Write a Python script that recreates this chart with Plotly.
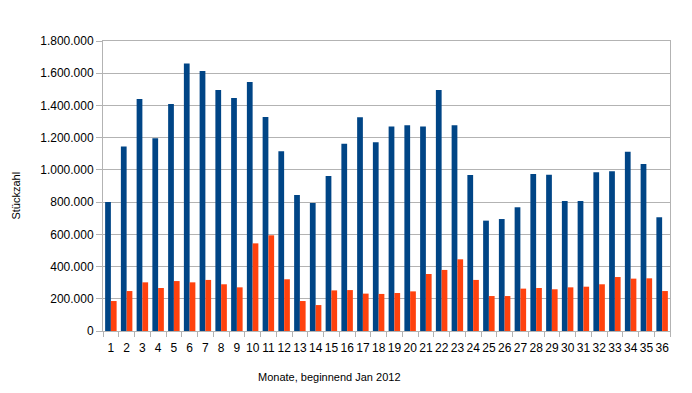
import plotly.graph_objects as go

months = [str(i) for i in range(1, 37)]
series_blue = [800000, 1145000, 1440000, 1196000, 1409000, 1661000, 1614000, 1496000, 1446000, 1546000,
               1328000, 1115000, 844000, 795000, 962000, 1163000, 1326000, 1171000, 1270000, 1277000,
               1270000, 1496000, 1277000, 968000, 685000, 695000, 768000, 975000, 970000, 807000,
               807000, 985000, 991000, 1113000, 1037000, 706000]
series_orange = [186000, 248000, 302000, 267000, 310000, 302000, 317000, 290000, 271000, 544000,
                 594000, 321000, 186000, 161000, 252000, 254000, 232000, 230000, 236000, 246000,
                 354000, 379000, 445000, 317000, 217000, 217000, 263000, 267000, 259000, 271000,
                 275000, 290000, 335000, 325000, 327000, 248000]
y_ticks = [0, 200000, 400000, 600000, 800000, 1000000, 1200000, 1400000, 1600000, 1800000]

fig = go.Figure()
fig.add_trace(go.Bar(x=months, y=series_blue, marker=dict(color="#004586", line=dict(width=0)), name="A"))
fig.add_trace(go.Bar(x=months, y=series_orange, marker=dict(color="#ff420e", line=dict(width=0)), name="B"))

fig.update_layout(
    width=684, height=385,
    margin=dict(l=95, r=22, t=33, b=62, autoexpand=False),
    paper_bgcolor="white", plot_bgcolor="white",
    barmode="group", bargap=0.27, bargroupgap=0,
    showlegend=False,
    separators=",.",
    font=dict(family="Liberation Sans, Arial, sans-serif", size=12, color="black"),
    xaxis=dict(type="category", tickson="boundaries", ticks="outside", ticklen=5,
               tickcolor="#b3b3b3", showline=True, linecolor="#b3b3b3", linewidth=1,
               mirror=True, showgrid=False, tickfont=dict(size=12), tickangle=0,
               ticklabelstandoff=6, automargin=False),
    yaxis=dict(range=[0, 1800000], tickvals=y_ticks, tickformat=",d", ticks="outside",
               ticklen=6, tickcolor="#b3b3b3", showline=True, linecolor="#b3b3b3",
               linewidth=1, mirror=True, showgrid=True, gridcolor="#b3b3b3", gridwidth=1,
               zeroline=False, tickfont=dict(size=12), automargin=False),
    annotations=[
        dict(text="Monate, beginnend Jan 2012", xref="paper", yref="paper", x=0.40, y=-0.159,
             xanchor="center", yanchor="middle", showarrow=False, font=dict(size=11)),
        dict(text="Stückzahl", xref="paper", yref="paper", x=-0.154, y=0.466,
             xanchor="center", yanchor="middle", showarrow=False, textangle=-90, font=dict(size=11)),
    ],
)

fig.write_html("out.html")
